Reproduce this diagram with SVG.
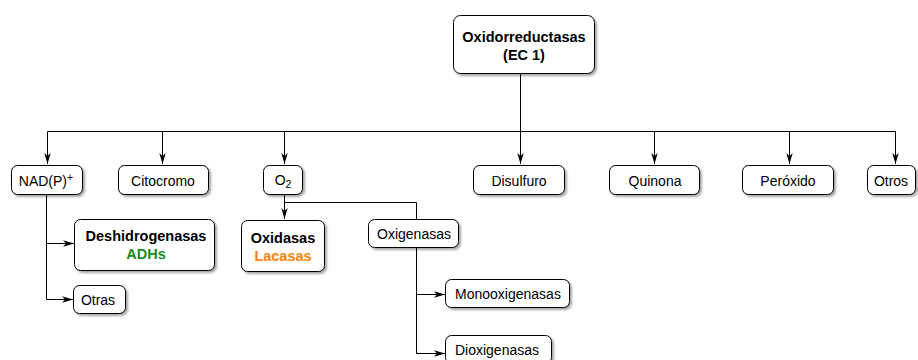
<svg xmlns="http://www.w3.org/2000/svg" width="918" height="360" viewBox="0 0 918 360">
<defs>
<filter id="sh" x="-10%" y="-10%" width="130%" height="150%">
<feDropShadow dx="2" dy="2" stdDeviation="1.2" flood-color="#000" flood-opacity="0.35"/>
</filter>
<marker id="ah" markerWidth="12" markerHeight="8" refX="11" refY="4" orient="auto" markerUnits="userSpaceOnUse">
<path d="M0,0.8 L11,4 L0,7.2 L3,4 Z" fill="#000"/>
</marker>
</defs>
<style>
.b{fill:#fff;stroke:#000;stroke-width:1;filter:url(#sh)}
text{font-family:"Liberation Sans",Arial,sans-serif;font-size:14px;fill:#000;text-anchor:middle}
.bd{font-weight:bold;font-size:14.5px}
.c{fill:none;stroke:#000;stroke-width:1}
</style>
<g id="connectors">
<path class="c" d="M520.5,73 V131.5"/>
<path class="c" d="M47.5,131.5 H895.5"/>
<path class="c" d="M47.5,131.5 V164" marker-end="url(#ah)"/>
<path class="c" d="M162.5,131.5 V164" marker-end="url(#ah)"/>
<path class="c" d="M284.5,131.5 V164" marker-end="url(#ah)"/>
<path class="c" d="M520.5,131.5 V164" marker-end="url(#ah)"/>
<path class="c" d="M654.5,131.5 V164" marker-end="url(#ah)"/>
<path class="c" d="M789.5,131.5 V164" marker-end="url(#ah)"/>
<path class="c" d="M895.5,131.5 V164" marker-end="url(#ah)"/>
<path class="c" d="M46.5,194 V299.5 H73" marker-end="url(#ah)"/>
<path class="c" d="M46.5,243.5 H74" marker-end="url(#ah)"/>
<path class="c" d="M284.5,194 V219" marker-end="url(#ah)"/>
<path class="c" d="M284.5,202.5 H416.5 V219"/>
<path class="c" d="M416.5,247 V353.5 H445" marker-end="url(#ah)"/>
<path class="c" d="M416.5,294.5 H445" marker-end="url(#ah)"/>
</g>
<g id="root"><rect class="b" x="453.5" y="15.5" width="141" height="58" rx="7"/>
<text class="bd" x="524" y="42">Oxidorreductasas</text><text class="bd" x="524" y="60">(EC 1)</text></g>
<g id="nadp"><rect class="b" x="11.5" y="165.5" width="71" height="29" rx="6"/>
<text x="46" y="185.5">NAD(P)<tspan font-size="10.5" dy="-5">+</tspan></text></g>
<g id="citocromo"><rect class="b" x="118.5" y="165.5" width="90" height="29" rx="6"/>
<text x="163" y="185.5">Citocromo</text></g>
<g id="o2"><rect class="b" x="263.5" y="165.5" width="39" height="29" rx="6"/>
<text x="283" y="185">O<tspan font-size="10.5" dy="3">2</tspan></text></g>
<g id="disulfuro"><rect class="b" x="473.5" y="165.5" width="91" height="29" rx="6"/>
<text x="519" y="186">Disulfuro</text></g>
<g id="quinona"><rect class="b" x="609.5" y="165.5" width="90" height="29" rx="6"/>
<text x="655" y="186">Quinona</text></g>
<g id="peroxido"><rect class="b" x="742.5" y="165.5" width="91" height="29" rx="6"/>
<text x="788" y="186">Peróxido</text></g>
<g id="otros"><rect class="b" x="867.5" y="165.5" width="48" height="29" rx="6"/>
<text x="891" y="186">Otros</text></g>
<g id="deshidrogenasas"><rect class="b" x="74.5" y="219.5" width="140" height="51" rx="6"/>
<text class="bd" x="146" y="241">Deshidrogenasas</text><text class="bd" x="146" y="259" style="fill:#1a8a1a">ADHs</text></g>
<g id="otras"><rect class="b" x="73.5" y="285.5" width="52" height="28" rx="6"/>
<text x="98" y="304.5">Otras</text></g>
<g id="oxidasas"><rect class="b" x="241.5" y="220.5" width="83" height="51" rx="6"/>
<text class="bd" x="283" y="243">Oxidasas</text><text class="bd" x="283" y="261" style="fill:#f7820f">Lacasas</text></g>
<g id="oxigenasas"><rect class="b" x="368.5" y="219.5" width="90" height="28" rx="6"/>
<text x="414" y="238.5">Oxigenasas</text></g>
<g id="monooxigenasas"><rect class="b" x="445.5" y="279.5" width="124" height="28" rx="6"/>
<text x="508" y="298.5">Monooxigenasas</text></g>
<g id="dioxigenasas"><rect class="b" x="445.5" y="335.5" width="106" height="28" rx="6"/>
<text x="497" y="354.5">Dioxigenasas</text></g>
</svg>
